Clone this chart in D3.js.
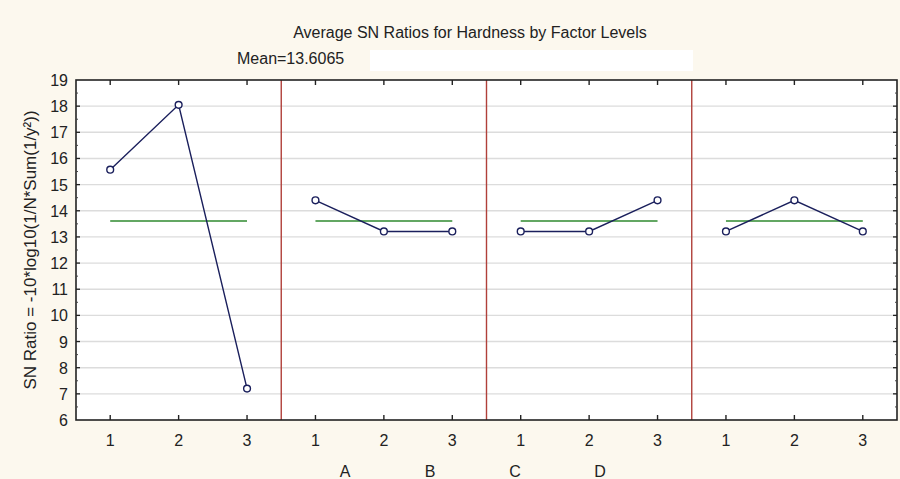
<!DOCTYPE html>
<html>
<head>
<meta charset="utf-8">
<script src="https://cdn.jsdelivr.net/npm/d3@7/dist/d3.min.js"></script>
<style>
  body { margin: 0; background: #fcf8ee; }
  svg { display: block; font-family: "Liberation Sans", Arial, sans-serif; }
</style>
</head>
<body>
<div id="chart"></div>
<script>
// data
var factors = ["A", "B", "C", "D"];
var levels = ["1", "2", "3"];
var snA = [15.57, 18.05, 7.20];
var snB = [14.40, 13.21, 13.21];
var snC = [13.21, 13.21, 14.40];
var snD = [13.21, 14.40, 13.21];
var meanSN = 13.6065;
var yTicks = [6, 7, 8, 9, 10, 11, 12, 13, 14, 15, 16, 17, 18, 19];

var series = [snA, snB, snC, snD];

var W = 900, H = 479;
var mL = 76, mR = 897, mT = 80, mB = 420;
var fs = "16px";

var svg = d3.select("#chart").append("svg")
    .attr("width", W)
    .attr("height", H);

// background
svg.append("rect")
    .attr("width", W).attr("height", H)
    .attr("fill", "#fcf8ee");

// x positions: one slot per factor level, 12 slots across
var slots = [];
factors.forEach(function(f) {
    levels.forEach(function(l) { slots.push(f + l); });
});

var x = d3.scaleBand()
    .domain(slots)
    .range([mL, mR])
    .padding(0);

var y = d3.scaleLinear()
    .domain([6, 19])
    .range([mB, mT]);

function cx(k) { return x(k) + x.bandwidth() / 2; }

// plot area
svg.append("rect")
    .attr("x", mL).attr("y", mT)
    .attr("width", mR - mL).attr("height", mB - mT)
    .attr("fill", "#ffffff");

// grid lines
svg.append("g")
    .selectAll("line")
    .data(yTicks.slice(1, -1))
    .enter()
    .append("line")
    .attr("x1", mL).attr("x2", mR)
    .attr("y1", function(d) { return y(d); })
    .attr("y2", function(d) { return y(d); })
    .style("stroke", "#dcdcdc")
    .style("stroke-width", 1.4);

// separators between factors
svg.append("g")
    .selectAll("line")
    .data(factors.slice(1))
    .enter()
    .append("line")
    .attr("x1", function(d) { return x(d + "1"); })
    .attr("x2", function(d) { return x(d + "1"); })
    .attr("y1", mT).attr("y2", mB)
    .style("stroke", "#b0403a")
    .style("stroke-width", 1.4);

// mean lines for each factor
svg.append("g")
    .selectAll("line")
    .data(factors)
    .enter()
    .append("line")
    .attr("x1", function(d) { return cx(d + "1"); })
    .attr("x2", function(d) { return cx(d + "3"); })
    .attr("y1", y(meanSN))
    .attr("y2", y(meanSN))
    .style("stroke", "#2f8a2f")
    .style("stroke-width", 1.4);

// SN ratio lines + markers
var line = d3.line()
    .x(function(d) { return cx(d.key); })
    .y(function(d) { return y(d.v); });

series.forEach(function(vals, i) {
    var pts = vals.map(function(v, j) { return { key: factors[i] + levels[j], v: v }; });
    svg.append("path")
        .attr("d", line(pts))
        .attr("fill", "none")
        .style("stroke", "#1a1f5c")
        .style("stroke-width", 1.4);
    svg.append("g")
        .selectAll("circle")
        .data(pts)
        .enter()
        .append("circle")
        .attr("cx", function(d) { return cx(d.key); })
        .attr("cy", function(d) { return y(d.v); })
        .attr("r", 3.4)
        .style("fill", "#ffffff")
        .style("stroke", "#1a1f5c")
        .style("stroke-width", 1.4);
});

// frame
svg.append("rect")
    .attr("x", mL).attr("y", mT)
    .attr("width", mR - mL).attr("height", mB - mT)
    .attr("fill", "none")
    .style("stroke", "#222")
    .style("stroke-width", 1.6);

// x ticks top and bottom (inward)
var xTickG = svg.append("g");
slots.forEach(function(s) {
    xTickG.append("line").attr("x1", cx(s)).attr("x2", cx(s))
        .attr("y1", mB).attr("y2", mB - 5)
        .style("stroke", "#222").style("stroke-width", 1.4);
    xTickG.append("line").attr("x1", cx(s)).attr("x2", cx(s))
        .attr("y1", mT).attr("y2", mT + 5)
        .style("stroke", "#222").style("stroke-width", 1.4);
});

// y ticks left and right (inward), with half-step minor ticks
var minor = d3.range(6.5, 19, 1);
[mL, mR].forEach(function(ax) {
    var dir = ax === mL ? 1 : -1;
    svg.append("g").selectAll("line").data(yTicks.slice(1, -1)).enter().append("line")
        .attr("x1", ax).attr("x2", ax + dir * 4)
        .attr("y1", function(d) { return y(d); })
        .attr("y2", function(d) { return y(d); })
        .style("stroke", "#222").style("stroke-width", 1.3);
    svg.append("g").selectAll("line").data(minor).enter().append("line")
        .attr("x1", ax).attr("x2", ax + dir * 2)
        .attr("y1", function(d) { return y(d); })
        .attr("y2", function(d) { return y(d); })
        .style("stroke", "#444").style("stroke-width", 1);
});

// y tick labels
svg.append("g").selectAll("text").data(yTicks).enter().append("text")
    .attr("x", mL - 8)
    .attr("y", function(d) { return y(d) + 6; })
    .attr("text-anchor", "end")
    .style("font-size", fs)
    .style("fill", "#222")
    .text(function(d) { return d; });

// x tick labels
svg.append("g").selectAll("text").data(slots).enter().append("text")
    .attr("x", function(d) { return cx(d); })
    .attr("y", 446)
    .attr("text-anchor", "middle")
    .style("font-size", fs)
    .style("fill", "#222")
    .text(function(d) { return d.slice(1); });

// factor labels (placed where the original puts them)
var fx = d3.scalePoint().domain(factors).range([345, 600]);
svg.append("g").selectAll("text").data(factors).enter().append("text")
    .attr("x", function(d) { return fx(d); })
    .attr("y", 477)
    .attr("text-anchor", "middle")
    .style("font-size", fs)
    .style("fill", "#222")
    .text(function(d) { return d; });

// y axis title
svg.append("text")
    .attr("transform", "translate(36," + ((mT + mB) / 2) + ") rotate(-90)")
    .attr("text-anchor", "middle")
    .style("font-size", "17px")
    .style("fill", "#222")
    .text("SN Ratio = -10*log10(1/N*Sum(1/y\u00b2))");

// titles
svg.append("text")
    .attr("x", 470).attr("y", 38)
    .attr("text-anchor", "middle")
    .style("font-size", fs)
    .style("fill", "#222")
    .text("Average SN Ratios for Hardness by Factor Levels");

svg.append("text")
    .attr("x", 237).attr("y", 64)
    .style("font-size", fs)
    .style("fill", "#222")
    .text("Mean=" + meanSN);

// blanked-out strip next to the mean
svg.append("rect")
    .attr("x", 370).attr("y", 50)
    .attr("width", 323).attr("height", 21)
    .attr("fill", "#ffffff");
</script>
</body>
</html>
